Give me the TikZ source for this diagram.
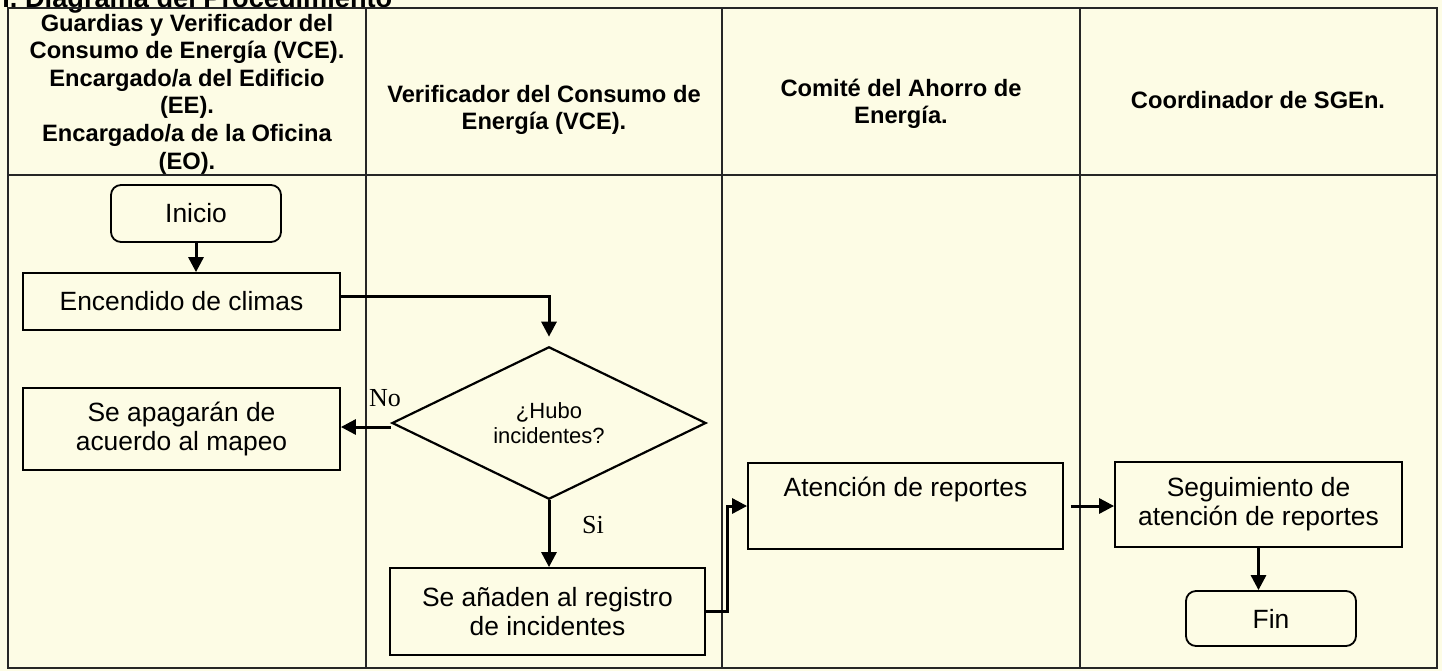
\documentclass[tikz,border=0pt]{standalone}
\usepackage{fontspec}
\setmainfont{Liberation Sans}
\newfontfamily\serifetq{Liberation Serif}
\usepackage{tikz}
\usetikzlibrary{arrows.meta,shapes.geometric,positioning}
\usepackage{xcolor}
\definecolor{fondo}{RGB}{253,252,229}
\tikzstyle{proceso} = [rectangle, draw=black, fill=fondo, line width=0.9pt, text centered, align=center, font=\fontsize{13.2}{14.5}\selectfont]
\tikzstyle{terminal} = [proceso, rounded corners=5pt]
\tikzstyle{decision} = [diamond, draw=black, fill=fondo, line width=1.1pt, inner sep=0pt, minimum width=157pt, minimum height=75pt, align=center, font=\fontsize{11}{12.5}\selectfont]
\tikzstyle{encabezado} = [align=center, font=\bfseries\fontsize{11.85}{13.8}\selectfont]
\tikzstyle{etiqueta} = [font=\serifetq\fontsize{13}{15}\selectfont]
\tikzstyle{carril} = [line width=0.6pt, color=black!85]
\tikzstyle{flecha} = [line width=1.5pt,->,>={Triangle[length=7.5pt,width=7.5pt]}]

\begin{document}
\begin{tikzpicture}[x=0.5pt, y=-0.5pt]
\fill[fondo] (0,0) rectangle (1442,671);
\useasboundingbox (0,0) rectangle (1442,671);
% Title
\node[anchor=base west, inner sep=0pt, font=\bfseries\fontsize{13.6}{16}\selectfont] (titulo) at (2,7) {I. Diagrama del Procedimiento};
% Lanes
\draw[carril] (8,8) rectangle (1437,668);
\draw[carril] (8,175) -- (1437,175);
\foreach \x in {366,722,1080}
  \draw[carril] (\x,8) -- (\x,668);
\node[encabezado] (carril1) at (187,94) {Guardias y Verificador del\\Consumo de Energía (VCE).\\Encargado/a del Edificio\\(EE).\\Encargado/a de la Oficina\\(EO).};
\node[encabezado] (carril2) at (544,110) {Verificador del Consumo de\\Energía (VCE).};
\node[encabezado] (carril3) at (901,104) {Comité del Ahorro de\\Energía.};
\node[encabezado] (carril4) at (1258,100) {Coordinador de SGEn.};
% Steps
\node (inicio) [terminal, minimum width=85pt, minimum height=28.5pt] at (196,213.5) {Inicio};
\node (encendido) [proceso, minimum width=158.5pt, minimum height=28.5pt] at (181.5,301.5) {Encendido de climas};
\node (hubo) [decision] at (549,423) {¿Hubo\\incidentes?};
\node (apagar) [proceso, minimum width=158.5pt, minimum height=41pt] at (181.5,429) {Se apagarán de\\acuerdo al mapeo};
\node (registro) [proceso, minimum width=157.5pt, minimum height=43.5pt] at (547.5,611.5) {Se añaden al registro\\de incidentes};
\node (atencion) [proceso, minimum width=157.5pt, minimum height=43pt] at (905.5,506) {Atención de reportes\\ \strut};
\node (seguimiento) [proceso, minimum width=143.5pt, minimum height=42.5pt] at (1258.5,504.5) {Seguimiento de\\atención de reportes};
\node (fin) [terminal, minimum width=85pt, minimum height=27.5pt] at (1271,618.5) {Fin};
\node (no) [etiqueta] at (385,398) {No};
\node (si) [etiqueta] at (593,525) {Si};
% Arrows
\draw[flecha] (inicio.south) -- (inicio.south |- encendido.north);
\draw[flecha, shorten >=4.5pt] ([yshift=2.5pt]encendido.east) -| (hubo.north);
\draw[flecha] ([yshift=-2pt]hubo.west) -- ([yshift=-2pt]hubo.west -| apagar.east);
\draw[flecha] (hubo.south) -- (hubo.south |- registro.north);
\draw[flecha] (registro.east) -- ++(22,0) |- (atencion.west);
\draw[flecha, shorten <=3.5pt] (atencion.east) -- (atencion.east -| seguimiento.west);
\draw[flecha] (seguimiento.south) -- (seguimiento.south |- fin.north);
\end{tikzpicture}
\end{document}
